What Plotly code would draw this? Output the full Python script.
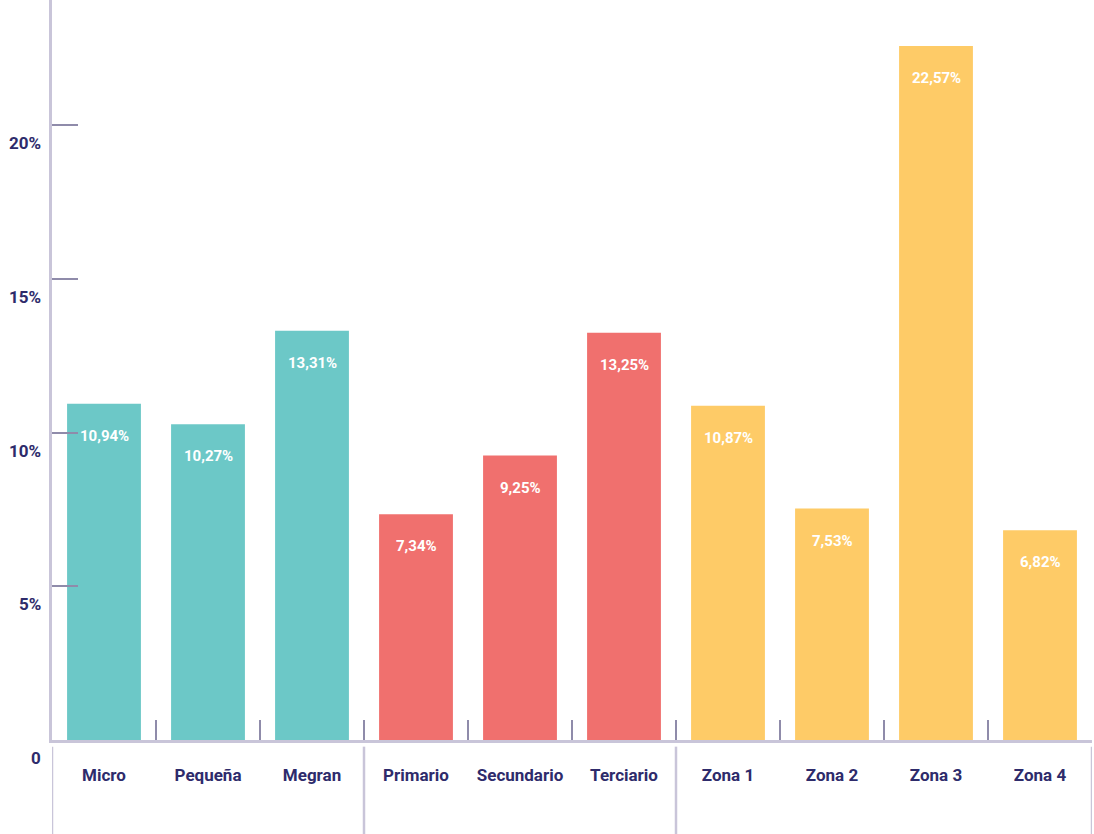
import plotly.graph_objects as go

categories = ["Micro", "Pequeña", "Megran", "Primario", "Secundario", "Terciario",
              "Zona 1", "Zona 2", "Zona 3", "Zona 4"]
values = [10.94, 10.27, 13.31, 7.34, 9.25, 13.25, 10.87, 7.53, 22.57, 6.82]
value_labels = ["10,94%", "10,27%", "13,31%", "7,34%", "9,25%", "13,25%",
                "10,87%", "7,53%", "22,57%", "6,82%"]
group_colors = ["#6CC8C7"] * 3 + ["#F0706E"] * 3 + ["#FECB67"] * 4
y_tickvals = [0, 5, 10, 15, 20]
y_ticktext = ["0", "5%", "10%", "15%", "20%"]
group_boundaries = [-0.5, 2.5, 5.5, 9.5]

NAVY = "#2E2B6B"
AXIS = "#C9C5D9"
TICK = "#8F8BAA"
FONT = "Roboto, Open Sans, sans-serif"

fig = go.Figure()
fig.add_trace(go.Bar(
    x=categories, y=values,
    marker=dict(color=group_colors, line=dict(width=0)),
    hoverinfo="skip",
))

for c, v, t in zip(categories, values, value_labels):
    fig.add_annotation(x=c, y=v, text=f"<b>{t}</b>", showarrow=False,
                       yshift=-32, font=dict(family=FONT, size=15, color="white"))

for i, (tv, tt) in enumerate(zip(y_tickvals, y_ticktext)):
    fig.add_annotation(x=0, xref="paper", y=tv, yref="y", text=f"<b>{tt}</b>",
                       showarrow=False, xanchor="right", xshift=-9, yshift=-18,
                       font=dict(family=FONT, size=17, color=NAVY))

for b in group_boundaries:
    fig.add_shape(type="line", xref="x", yref="paper", x0=b, x1=b,
                  y0=-0.009, y1=-0.13, line=dict(color=AXIS, width=2.5))

fig.update_layout(
    width=1094, height=834,
    margin=dict(l=52, r=2, t=0, b=94),
    plot_bgcolor="white", paper_bgcolor="white",
    bargap=0.29,
    showlegend=False,
    xaxis=dict(
        type="category", showgrid=False, showline=True, linecolor=AXIS, linewidth=2.5,
        ticks="inside", tickson="boundaries", ticklen=20, tickcolor=TICK, tickwidth=2,
        tickfont=dict(family=FONT, size=17, color=NAVY), tickangle=0,
        tickprefix="<b>", ticksuffix="</b>",
        ticklabelstandoff=18, automargin=False,
        range=[-0.5, 9.5], fixedrange=True,
    ),
    yaxis=dict(
        range=[0, 24.07], showgrid=False, zeroline=False, automargin=False,
        showline=True, linecolor=AXIS, linewidth=2.5,
        ticks="inside", tickvals=y_tickvals[1:], ticklen=26, tickcolor=TICK, tickwidth=2,
        showticklabels=False, fixedrange=True,
    ),
)

fig.write_html("out.html", config={"displayModeBar": False},
               post_script="document.body.style.margin='0';document.body.style.overflow='hidden';")
